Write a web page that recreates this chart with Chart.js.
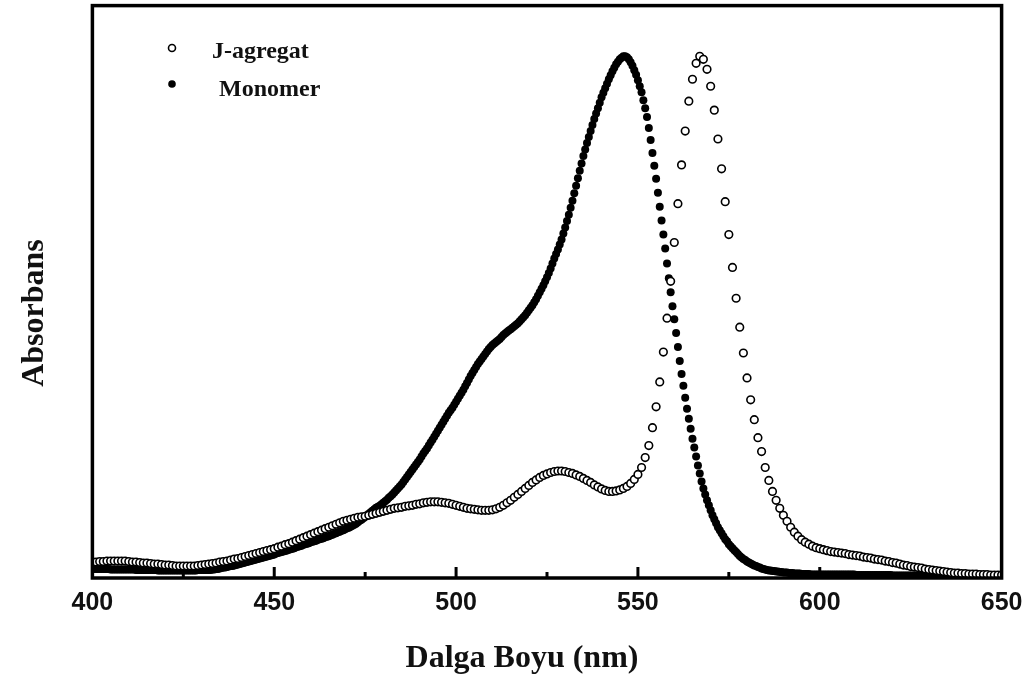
<!DOCTYPE html>
<html>
<head>
<meta charset="utf-8">
<script src="https://cdn.jsdelivr.net/npm/chart.js@4.4.1/dist/chart.umd.min.js"></script>
<style>
  html, body { margin: 0; padding: 0; background: #fff; }
  #wrap { width: 1026px; height: 682px; position: relative; }
</style>
</head>
<body>
<div id="wrap"><canvas id="myChart"></canvas></div>
<script>
const jStart = 400, jStep = 1;
const jAgregat = [
  .032, .032, .033, .033, .034, .034, .034, .034, .034, .034, // 400
  .033, .032, .032, .031, .030, .030, .029, .028, .028, .027, // 410
  .026, .026, .025, .024, .024, .024, .024, .024, .024, .025, // 420
  .026, .027, .028, .029, .030, .032, .033, .034, .036, .038, // 430
  .039, .041, .043, .045, .047, .049, .051, .053, .055, .057, // 440
  .059, .062, .064, .067, .069, .072, .075, .078, .081, .084, // 450
  .087, .090, .093, .096, .099, .102, .105, .108, .111, .114, // 460
  .116, .118, .120, .122, .123, .124, .126, .128, .130, .132, // 470
  .134, .136, .138, .140, .141, .142, .144, .145, .146, .148, // 480
  .149, .151, .152, .153, .153, .153, .152, .151, .150, .148, // 490
  .146, .144, .142, .140, .139, .138, .137, .136, .136, .136, // 500
  .137, .139, .142, .146, .151, .156, .162, .168, .174, .180, // 510
  .186, .192, .197, .202, .206, .209, .212, .214, .215, .215, // 520
  .214, .212, .210, .207, .204, .200, .196, .192, .187, .183, // 530
  .179, .176, .174, .174, .175, .177, .180, .184, .190, .198, // 540
  .208, .222, .242, .266, .302, .344, .394, .454, .522, .596, // 550
  .674, .752, .830, .898, .958, 1.002, 1.034, 1.048, 1.042, 1.022, // 560
  .988, .940, .882, .822, .756, .690, .624, .562, .504, .452, // 570
  .402, .358, .318, .282, .254, .222, .196, .174, .156, .140, // 580
  .126, .114, .102, .092, .084, .077, .072, .068, .064, .061, // 590
  .059, .057, .055, .053, .052, .051, .050, .049, .047, .046, // 600
  .045, .044, .042, .041, .040, .038, .037, .036, .034, .033, // 610
  .031, .030, .028, .026, .025, .023, .022, .021, .020, .018, // 620
  .017, .016, .015, .014, .013, .012, .011, .010, .010, .009, // 630
  .009, .008, .008, .008, .007, .007, .007, .006, .006, .006, // 640
  .006 // 650
];

const monoStart = 400, monoStep = 0.5;
const monomer = [
  .018, .018, .018, .018, .018, .018, .018, .018, .018, .018, .017, .017, .017, .017, .017, .017, .017, .017, .017, .017, // 400
  .017, .017, .017, .017, .016, .016, .016, .016, .016, .016, .016, .016, .016, .016, .016, .016, .015, .015, .015, .015, // 410
  .015, .015, .015, .015, .015, .015, .015, .015, .015, .015, .015, .015, .015, .015, .015, .015, .015, .015, .016, .016, // 420
  .016, .016, .016, .016, .016, .016, .017, .017, .018, .018, .019, .020, .021, .021, .022, .023, .024, .024, .025, .026, // 430
  .027, .028, .029, .030, .031, .032, .033, .034, .035, .036, .037, .038, .039, .040, .041, .042, .043, .044, .045, .046, // 440
  .047, .049, .050, .051, .052, .053, .054, .055, .057, .058, .059, .060, .062, .063, .064, .065, .067, .068, .069, .070, // 450
  .072, .073, .074, .075, .077, .078, .079, .080, .082, .083, .084, .086, .087, .089, .090, .092, .093, .095, .096, .098, // 460
  .100, .101, .103, .105, .107, .109, .112, .115, .117, .120, .123, .126, .129, .132, .135, .138, .141, .143, .145, .148, // 470
  .151, .154, .157, .161, .164, .168, .172, .176, .180, .184, .188, .193, .198, .203, .208, .213, .218, .223, .228, .233, // 480
  .238, .244, .250, .255, .260, .266, .272, .278, .284, .290, .296, .302, .308, .314, .320, .326, .332, .337, .342, .348, // 490
  .354, .360, .366, .372, .378, .385, .392, .399, .406, .412, .418, .424, .430, .435, .440, .445, .450, .455, .460, .464, // 500
  .468, .471, .474, .477, .480, .484, .488, .491, .494, .497, .500, .503, .506, .509, .512, .516, .520, .524, .528, .533, // 510
  .538, .543, .548, .554, .560, .567, .574, .581, .588, .596, .604, .613, .622, .632, .642, .651, .660, .670, .680, .692, // 520
  .704, .717, .730, .744, .758, .773, .788, .803, .818, .833, .848, .861, .874, .886, .898, .910, .922, .933, .944, .955, // 530
  .966, .975, .984, .993, 1.002, 1.010, 1.018, 1.025, 1.032, 1.037, 1.042, 1.045, 1.048, 1.048, 1.046, 1.042, 1.036, 1.029, 1.020, 1.011, // 540
  1.000, .988, .976, .960, .944, .926, .904, .880, .854, .828, .802, .774, .746, .718, .690, .662, .632, .602, .574, .546, // 550
  .520, .492, .464, .436, .410, .386, .362, .340, .320, .300, .280, .262, .244, .226, .210, .194, .180, .168, .156, .146, // 560
  .136, .126, .118, .110, .102, .096, .090, .084, .078, .074, .068, .064, .060, .056, .052, .048, .044, .041, .038, .036, // 570
  .033, .031, .029, .027, .025, .024, .022, .021, .019, .018, .017, .016, .015, .015, .014, .014, .013, .013, .012, .012, // 580
  .011, .011, .011, .010, .010, .010, .009, .009, .009, .009, .008, .008, .008, .008, .008, .007, .007, .007, .007, .007, // 590
  .007, .007, .007, .007, .007, .007, .007, .007, .007, .007, .007, .007, .007, .007, .007, .007, .007, .007, .007, .007, // 600
  .006, .006, .006, .006, .006, .006, .006, .006, .006, .006, .006, .006, .006, .006, .006, .006, .006, .006, .006, .006, // 610
  .005, .005, .005, .005, .005, .005, .005, .005, .005, .005, .005, .005, .005, .005, .005, .005, .005, .005, .005, .005, // 620
  .004, .004, .004, .004, .004, .004, .004, .004, .004, .004, .004, .004, .004, .004, .004, .004, .004, .004, .004, .004, // 630
  .003, .003, .003, .003, .003, .003, .003, .003, .003, .003, .003, .003, .003, .003, .003, .003, .003, .003, .003, .003, // 640
  .003 // 650
];

const xTicks = [400, 450, 500, 550, 600, 650];
const minorTicks = [425, 475, 525, 575, 625];
const seriesNames = ['J-agregat', 'Monomer'];
const xTitle = 'Dalga Boyu (nm)';
const yTitle = 'Absorbans';

const toPoints = (vals, start, step) => vals.map((v, i) => ({ x: start + i * step, y: v }));

// marco, ticks hacia adentro, leyenda y titulos
const marco = {
  id: 'marco',
  afterDatasetsDraw(chart) {
    const { ctx, chartArea: ca, scales: { x } } = chart;
    ctx.save();
    ctx.strokeStyle = '#000';
    ctx.lineWidth = 3.5;
    ctx.strokeRect(ca.left, ca.top, ca.right - ca.left, ca.bottom - ca.top);

    ctx.lineWidth = 3;
    const tick = (v, len) => {
      const px = x.getPixelForValue(v);
      ctx.beginPath();
      ctx.moveTo(px, ca.bottom);
      ctx.lineTo(px, ca.bottom - len);
      ctx.stroke();
    };
    xTicks.slice(1, -1).forEach(v => tick(v, 11));
    minorTicks.forEach(v => tick(v, 6));

    // leyenda
    ctx.fillStyle = '#fff';
    ctx.lineWidth = 1.6;
    ctx.beginPath();
    ctx.arc(172, 48, 3.5, 0, Math.PI * 2);
    ctx.fill();
    ctx.stroke();
    ctx.fillStyle = '#000';
    ctx.beginPath();
    ctx.arc(172, 84, 3.8, 0, Math.PI * 2);
    ctx.fill();

    ctx.fillStyle = '#111';
    ctx.font = 'bold 24px "Liberation Serif"';
    ctx.textAlign = 'left';
    ctx.textBaseline = 'alphabetic';
    ctx.fillText(seriesNames[0], 212, 58);
    ctx.fillText(seriesNames[1], 219, 96);

    // titulos de ejes
    ctx.font = 'bold 32px "Liberation Serif"';
    ctx.textAlign = 'center';
    ctx.fillText(xTitle, 522, 667);
    ctx.translate(43, 313);
    ctx.rotate(-Math.PI / 2);
    ctx.fillText(yTitle, 0, 0);
    ctx.restore();
  }
};

const ctx = document.getElementById('myChart');
new Chart(ctx, {
  type: 'scatter',
  data: {
    datasets: [{
      label: seriesNames[0],
      data: toPoints(jAgregat, jStart, jStep),
      pointStyle: 'circle',
      pointRadius: 3.8,
      pointBorderWidth: 1.6,
      pointBackgroundColor: '#fff',
      pointBorderColor: '#000',
      showLine: false,
      order: 0
    }, {
      label: seriesNames[1],
      data: toPoints(monomer, monoStart, monoStep),
      pointStyle: 'circle',
      pointRadius: 4,
      pointBorderWidth: 0,
      pointBackgroundColor: '#000',
      pointBorderColor: '#000',
      showLine: false,
      order: 1
    }]
  },
  options: {
    responsive: true,
    maintainAspectRatio: false,
    animation: false,
    events: [],
    layout: { padding: { left: 92.4, right: 24.4, top: 3, bottom: 64 } },
    plugins: {
      legend: { display: false },
      tooltip: { enabled: false }
    },
    scales: {
      x: {
        type: 'linear',
        min: 400,
        max: 650,
        grid: { display: false, drawTicks: false },
        border: { display: false },
        afterBuildTicks: (scale) => { scale.ticks = xTicks.map(v => ({ value: v })); },
        afterFit: (scale) => {
          scale.height = 40;
          scale.paddingLeft = 0;
          scale.paddingRight = 0;
        },
        ticks: {
          autoSkip: false,
          maxRotation: 0,
          padding: 10,
          color: '#111',
          font: { family: '"Liberation Sans", Arial, sans-serif', size: 25, weight: 'bold' }
        }
      },
      y: {
        display: false,
        min: 0,
        max: 1.15
      }
    }
  },
  plugins: [marco]
});
</script>
</body>
</html>
